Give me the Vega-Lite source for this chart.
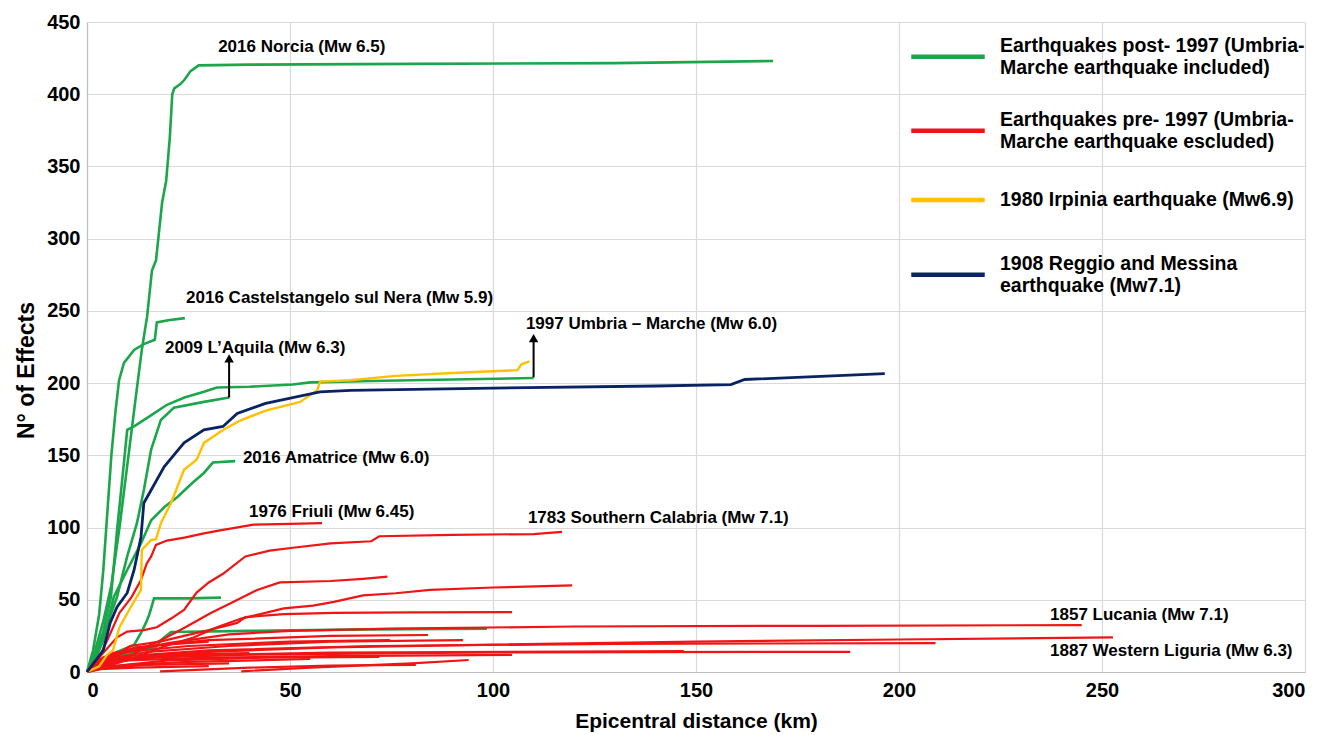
{
  "$schema": "https://vega.github.io/schema/vega-lite/v6.json",
  "width": 1218,
  "height": 650,
  "autosize": "none",
  "padding": {"left": 87, "top": 22, "right": 33, "bottom": 63},
  "background": "white",
  "config": {
    "font": "Liberation Sans",
    "view": {"stroke": null},
    "axis": {
      "grid": true, "gridColor": "#D9D9D9", "gridWidth": 1.2,
      "domainColor": "#BFBFBF", "domainWidth": 1.2, "ticks": false,
      "labelFont": "Liberation Sans", "labelFontWeight": "bold", "labelFontSize": 20, "labelColor": "#000000",
      "titleFont": "Liberation Sans", "titleFontWeight": "bold", "titleFontSize": 22, "titleColor": "#000000"
    },
    "legend": {
      "orient": "none", "title": null, "padding": 0,
      "symbolSize": 5400, "symbolStrokeWidth": 4.5,
      "labelFont": "Liberation Sans", "labelFontSize": 19.5, "labelFontWeight": "bold", "labelColor": "#000000",
      "labelLimit": 600, "labelOffset": 13
    }
  },
  "resolve": {"scale": {"color": "independent"}},
  "datasets": {
    "lines": [
      {"s":"G1","g":"post","x":0,"y":0},{"s":"G1","g":"post","x":2,"y":15},{"s":"G1","g":"post","x":4,"y":35},{"s":"G1","g":"post","x":6,"y":60},{"s":"G1","g":"post","x":8,"y":100},{"s":"G1","g":"post","x":10,"y":145},{"s":"G1","g":"post","x":12,"y":190},{"s":"G1","g":"post","x":13.5,"y":223},{"s":"G1","g":"post","x":14.8,"y":246},{"s":"G1","g":"post","x":16,"y":278},{"s":"G1","g":"post","x":17,"y":285},{"s":"G1","g":"post","x":18.5,"y":325},{"s":"G1","g":"post","x":19.5,"y":340},{"s":"G1","g":"post","x":20.4,"y":370},{"s":"G1","g":"post","x":21,"y":400},{"s":"G1","g":"post","x":21.5,"y":404},{"s":"G1","g":"post","x":23,"y":407},{"s":"G1","g":"post","x":24,"y":410},{"s":"G1","g":"post","x":25.5,"y":416},{"s":"G1","g":"post","x":27.5,"y":420},{"s":"G1","g":"post","x":40,"y":420.5},{"s":"G1","g":"post","x":80,"y":421},{"s":"G1","g":"post","x":130,"y":421.5},{"s":"G1","g":"post","x":169,"y":423},
      {"s":"G2","g":"post","x":0,"y":0},{"s":"G2","g":"post","x":1.5,"y":15},{"s":"G2","g":"post","x":3,"y":40},{"s":"G2","g":"post","x":4,"y":70},{"s":"G2","g":"post","x":5,"y":110},{"s":"G2","g":"post","x":6,"y":150},{"s":"G2","g":"post","x":7,"y":180},{"s":"G2","g":"post","x":7.9,"y":202},{"s":"G2","g":"post","x":9.1,"y":214},{"s":"G2","g":"post","x":11.6,"y":223},{"s":"G2","g":"post","x":14,"y":227},{"s":"G2","g":"post","x":16.7,"y":230},{"s":"G2","g":"post","x":17.2,"y":242},{"s":"G2","g":"post","x":20,"y":243.5},{"s":"G2","g":"post","x":24.1,"y":245},
      {"s":"G3","g":"post","x":0,"y":0},{"s":"G3","g":"post","x":2,"y":12},{"s":"G3","g":"post","x":4,"y":28},{"s":"G3","g":"post","x":5.9,"y":52},{"s":"G3","g":"post","x":7.4,"y":98},{"s":"G3","g":"post","x":9.1,"y":145},{"s":"G3","g":"post","x":9.9,"y":167.6},{"s":"G3","g":"post","x":11.6,"y":170},{"s":"G3","g":"post","x":16.5,"y":179},{"s":"G3","g":"post","x":19.7,"y":185},{"s":"G3","g":"post","x":24,"y":190},{"s":"G3","g":"post","x":28.8,"y":194},{"s":"G3","g":"post","x":32,"y":197},{"s":"G3","g":"post","x":40,"y":197.5},{"s":"G3","g":"post","x":50.7,"y":199},{"s":"G3","g":"post","x":55,"y":200.5},{"s":"G3","g":"post","x":70,"y":201.5},{"s":"G3","g":"post","x":90,"y":202.5},{"s":"G3","g":"post","x":110,"y":203.5},
      {"s":"G4","g":"post","x":0,"y":0},{"s":"G4","g":"post","x":2,"y":10},{"s":"G4","g":"post","x":4,"y":25},{"s":"G4","g":"post","x":7.4,"y":52},{"s":"G4","g":"post","x":9.9,"y":80},{"s":"G4","g":"post","x":12.3,"y":103},{"s":"G4","g":"post","x":14,"y":126},{"s":"G4","g":"post","x":15.8,"y":154},{"s":"G4","g":"post","x":18.2,"y":174.5},{"s":"G4","g":"post","x":21.4,"y":183},{"s":"G4","g":"post","x":28.8,"y":187},{"s":"G4","g":"post","x":35,"y":190},
      {"s":"G5","g":"post","x":0,"y":0},{"s":"G5","g":"post","x":2,"y":8},{"s":"G5","g":"post","x":4,"y":22},{"s":"G5","g":"post","x":6.6,"y":52},{"s":"G5","g":"post","x":9.9,"y":70.6},{"s":"G5","g":"post","x":13.3,"y":89},{"s":"G5","g":"post","x":15.8,"y":105},{"s":"G5","g":"post","x":19,"y":114},{"s":"G5","g":"post","x":22.2,"y":121},{"s":"G5","g":"post","x":26,"y":131},{"s":"G5","g":"post","x":28.8,"y":137.8},{"s":"G5","g":"post","x":31,"y":145},{"s":"G5","g":"post","x":36.5,"y":146},
      {"s":"G6","g":"post","x":0,"y":0},{"s":"G6","g":"post","x":3,"y":5},{"s":"G6","g":"post","x":7.4,"y":14},{"s":"G6","g":"post","x":11.6,"y":18.7},{"s":"G6","g":"post","x":13.3,"y":27},{"s":"G6","g":"post","x":14.5,"y":34},{"s":"G6","g":"post","x":15.3,"y":39.5},{"s":"G6","g":"post","x":16,"y":46},{"s":"G6","g":"post","x":16.5,"y":51},{"s":"G6","g":"post","x":25,"y":51},{"s":"G6","g":"post","x":33,"y":51.5},
      {"s":"G7","g":"post","x":0,"y":0},{"s":"G7","g":"post","x":3,"y":5},{"s":"G7","g":"post","x":7,"y":10},{"s":"G7","g":"post","x":11.6,"y":14},{"s":"G7","g":"post","x":17,"y":17.3},{"s":"G7","g":"post","x":18.2,"y":22},{"s":"G7","g":"post","x":20.7,"y":27.7},{"s":"G7","g":"post","x":40,"y":28.5},{"s":"G7","g":"post","x":70,"y":29.5},{"s":"G7","g":"post","x":98.5,"y":30},
      {"s":"R1","g":"pre","x":0,"y":0},{"s":"R1","g":"pre","x":3,"y":10},{"s":"R1","g":"pre","x":5,"y":22},{"s":"R1","g":"pre","x":8,"y":41},{"s":"R1","g":"pre","x":9.9,"y":47.8},{"s":"R1","g":"pre","x":11,"y":52},{"s":"R1","g":"pre","x":13.3,"y":63.7},{"s":"R1","g":"pre","x":14.7,"y":75},{"s":"R1","g":"pre","x":15.8,"y":80},{"s":"R1","g":"pre","x":17,"y":88},{"s":"R1","g":"pre","x":19.7,"y":91},{"s":"R1","g":"pre","x":24,"y":93},{"s":"R1","g":"pre","x":28.8,"y":96},{"s":"R1","g":"pre","x":32.8,"y":98},{"s":"R1","g":"pre","x":41,"y":102},{"s":"R1","g":"pre","x":50,"y":102.5},{"s":"R1","g":"pre","x":57.9,"y":103},
      {"s":"R2","g":"pre","x":0,"y":0},{"s":"R2","g":"pre","x":3,"y":10},{"s":"R2","g":"pre","x":7.4,"y":24},{"s":"R2","g":"pre","x":9.9,"y":28},{"s":"R2","g":"pre","x":14,"y":29},{"s":"R2","g":"pre","x":17.2,"y":31},{"s":"R2","g":"pre","x":20.7,"y":37},{"s":"R2","g":"pre","x":23.9,"y":43},{"s":"R2","g":"pre","x":27,"y":55},{"s":"R2","g":"pre","x":30,"y":62},{"s":"R2","g":"pre","x":33.5,"y":68},{"s":"R2","g":"pre","x":39,"y":80},{"s":"R2","g":"pre","x":45,"y":84},{"s":"R2","g":"pre","x":50.7,"y":86},{"s":"R2","g":"pre","x":60,"y":89},{"s":"R2","g":"pre","x":70,"y":90.5},{"s":"R2","g":"pre","x":72,"y":94},{"s":"R2","g":"pre","x":90,"y":95},{"s":"R2","g":"pre","x":110,"y":95.5},{"s":"R2","g":"pre","x":117,"y":97},
      {"s":"R3","g":"pre","x":0,"y":0},{"s":"R3","g":"pre","x":5,"y":5},{"s":"R3","g":"pre","x":10,"y":10},{"s":"R3","g":"pre","x":14,"y":16.6},{"s":"R3","g":"pre","x":18.2,"y":22},{"s":"R3","g":"pre","x":23.9,"y":30.5},{"s":"R3","g":"pre","x":30.5,"y":40.8},{"s":"R3","g":"pre","x":35.5,"y":47.8},{"s":"R3","g":"pre","x":41.9,"y":56.8},{"s":"R3","g":"pre","x":47.5,"y":62},{"s":"R3","g":"pre","x":60,"y":63},{"s":"R3","g":"pre","x":68,"y":64.5},{"s":"R3","g":"pre","x":74,"y":66},
      {"s":"R4","g":"pre","x":0,"y":0},{"s":"R4","g":"pre","x":5,"y":4},{"s":"R4","g":"pre","x":12,"y":10},{"s":"R4","g":"pre","x":18.2,"y":17},{"s":"R4","g":"pre","x":26.4,"y":24},{"s":"R4","g":"pre","x":32,"y":31},{"s":"R4","g":"pre","x":38,"y":37},{"s":"R4","g":"pre","x":48.5,"y":44},{"s":"R4","g":"pre","x":55.7,"y":46},{"s":"R4","g":"pre","x":60.8,"y":48.5},{"s":"R4","g":"pre","x":68,"y":53},{"s":"R4","g":"pre","x":76,"y":54.5},{"s":"R4","g":"pre","x":84.5,"y":56.8},{"s":"R4","g":"pre","x":100,"y":58.5},{"s":"R4","g":"pre","x":119.5,"y":60},
      {"s":"R5","g":"pre","x":0,"y":0},{"s":"R5","g":"pre","x":4,"y":6},{"s":"R5","g":"pre","x":10.6,"y":18},{"s":"R5","g":"pre","x":18,"y":21},{"s":"R5","g":"pre","x":23.9,"y":25},{"s":"R5","g":"pre","x":30,"y":29},{"s":"R5","g":"pre","x":37,"y":34},{"s":"R5","g":"pre","x":39,"y":38},{"s":"R5","g":"pre","x":48.5,"y":40},{"s":"R5","g":"pre","x":60.8,"y":41},{"s":"R5","g":"pre","x":80,"y":41.3},{"s":"R5","g":"pre","x":104.7,"y":41.5},
      {"s":"R6","g":"pre","x":0,"y":0},{"s":"R6","g":"pre","x":4,"y":8},{"s":"R6","g":"pre","x":10,"y":14},{"s":"R6","g":"pre","x":20,"y":20},{"s":"R6","g":"pre","x":35,"y":26},{"s":"R6","g":"pre","x":50,"y":28.5},{"s":"R6","g":"pre","x":75,"y":30},{"s":"R6","g":"pre","x":120,"y":31.5},{"s":"R6","g":"pre","x":180,"y":32},{"s":"R6","g":"pre","x":245,"y":32.5},
      {"s":"R7","g":"pre","x":0,"y":0},{"s":"R7","g":"pre","x":3,"y":5},{"s":"R7","g":"pre","x":12,"y":10},{"s":"R7","g":"pre","x":30,"y":14},{"s":"R7","g":"pre","x":60,"y":17},{"s":"R7","g":"pre","x":100,"y":19},{"s":"R7","g":"pre","x":150,"y":21},{"s":"R7","g":"pre","x":200,"y":22.5},{"s":"R7","g":"pre","x":252.7,"y":24},
      {"s":"R8","g":"pre","x":0,"y":0},{"s":"R8","g":"pre","x":3,"y":6},{"s":"R8","g":"pre","x":10,"y":11},{"s":"R8","g":"pre","x":30,"y":15},{"s":"R8","g":"pre","x":70,"y":18},{"s":"R8","g":"pre","x":130,"y":19.5},{"s":"R8","g":"pre","x":209,"y":20},
      {"s":"R9","g":"pre","x":0,"y":0},{"s":"R9","g":"pre","x":4,"y":6},{"s":"R9","g":"pre","x":15,"y":10},{"s":"R9","g":"pre","x":40,"y":12},{"s":"R9","g":"pre","x":100,"y":13.5},{"s":"R9","g":"pre","x":188,"y":14},
      {"s":"R10","g":"pre","x":0,"y":0},{"s":"R10","g":"pre","x":5,"y":7},{"s":"R10","g":"pre","x":20,"y":11},{"s":"R10","g":"pre","x":60,"y":13.5},{"s":"R10","g":"pre","x":147,"y":14.5},
      {"s":"R11","g":"pre","x":0,"y":0},{"s":"R11","g":"pre","x":3,"y":8},{"s":"R11","g":"pre","x":10,"y":14},{"s":"R11","g":"pre","x":25,"y":18},{"s":"R11","g":"pre","x":50,"y":21},{"s":"R11","g":"pre","x":74.6,"y":22},
      {"s":"R12","g":"pre","x":0,"y":0},{"s":"R12","g":"pre","x":4,"y":10},{"s":"R12","g":"pre","x":12,"y":17},{"s":"R12","g":"pre","x":30,"y":22},{"s":"R12","g":"pre","x":60,"y":25},{"s":"R12","g":"pre","x":84,"y":25.6},
      {"s":"R13","g":"pre","x":0,"y":0},{"s":"R13","g":"pre","x":5,"y":9},{"s":"R13","g":"pre","x":15,"y":14},{"s":"R13","g":"pre","x":35,"y":18},{"s":"R13","g":"pre","x":60,"y":21},{"s":"R13","g":"pre","x":92.6,"y":22},
      {"s":"R14","g":"pre","x":0,"y":0},{"s":"R14","g":"pre","x":3,"y":5},{"s":"R14","g":"pre","x":10,"y":8},{"s":"R14","g":"pre","x":30,"y":10},{"s":"R14","g":"pre","x":60,"y":11},{"s":"R14","g":"pre","x":104.7,"y":11.8},
      {"s":"R15","g":"pre","x":0,"y":0},{"s":"R15","g":"pre","x":2,"y":4},{"s":"R15","g":"pre","x":8,"y":9},{"s":"R15","g":"pre","x":20,"y":12},{"s":"R15","g":"pre","x":40,"y":13},
      {"s":"R16","g":"pre","x":0,"y":0},{"s":"R16","g":"pre","x":3,"y":3},{"s":"R16","g":"pre","x":10,"y":5},{"s":"R16","g":"pre","x":25,"y":7},{"s":"R16","g":"pre","x":55,"y":9},
      {"s":"R17","g":"pre","x":0,"y":0},{"s":"R17","g":"pre","x":1.5,"y":6},{"s":"R17","g":"pre","x":6,"y":13},{"s":"R17","g":"pre","x":15,"y":18},{"s":"R17","g":"pre","x":30,"y":21},
      {"s":"R18","g":"pre","x":0,"y":0},{"s":"R18","g":"pre","x":5,"y":3},{"s":"R18","g":"pre","x":15,"y":5},{"s":"R18","g":"pre","x":35,"y":6},
      {"s":"R19","g":"pre","x":18,"y":0.5},{"s":"R19","g":"pre","x":40,"y":3},{"s":"R19","g":"pre","x":60,"y":4.5},{"s":"R19","g":"pre","x":81,"y":5},
      {"s":"R20","g":"pre","x":38,"y":0.5},{"s":"R20","g":"pre","x":55,"y":3},{"s":"R20","g":"pre","x":80,"y":6},{"s":"R20","g":"pre","x":94,"y":8.3},
      {"s":"R21","g":"pre","x":0,"y":0},{"s":"R21","g":"pre","x":6,"y":4},{"s":"R21","g":"pre","x":20,"y":8},{"s":"R21","g":"pre","x":45,"y":10},{"s":"R21","g":"pre","x":72,"y":10.5},
      {"s":"R22","g":"pre","x":0,"y":0},{"s":"R22","g":"pre","x":3,"y":2},{"s":"R22","g":"pre","x":12,"y":3},{"s":"R22","g":"pre","x":30,"y":4},
      {"s":"Y1","g":"irp","x":0,"y":0},{"s":"Y1","g":"irp","x":3,"y":4},{"s":"Y1","g":"irp","x":5,"y":12},{"s":"Y1","g":"irp","x":6.4,"y":15},{"s":"Y1","g":"irp","x":8,"y":31},{"s":"Y1","g":"irp","x":10.8,"y":45},{"s":"Y1","g":"irp","x":13.3,"y":56.8},{"s":"Y1","g":"irp","x":13.5,"y":84.5},{"s":"Y1","g":"irp","x":15.8,"y":91.4},{"s":"Y1","g":"irp","x":17,"y":92},{"s":"Y1","g":"irp","x":18.2,"y":103},{"s":"Y1","g":"irp","x":20.7,"y":117},{"s":"Y1","g":"irp","x":23.9,"y":140},{"s":"Y1","g":"irp","x":27,"y":147},{"s":"Y1","g":"irp","x":28.8,"y":158.6},{"s":"Y1","g":"irp","x":33.5,"y":167.6},{"s":"Y1","g":"irp","x":37.7,"y":174},{"s":"Y1","g":"irp","x":44,"y":181},{"s":"Y1","g":"irp","x":52.5,"y":187},{"s":"Y1","g":"irp","x":56.7,"y":195},{"s":"Y1","g":"irp","x":57.4,"y":201},{"s":"Y1","g":"irp","x":65,"y":202},{"s":"Y1","g":"irp","x":76,"y":205},{"s":"Y1","g":"irp","x":90,"y":207},{"s":"Y1","g":"irp","x":106,"y":209},{"s":"Y1","g":"irp","x":107,"y":213},{"s":"Y1","g":"irp","x":109,"y":215},
      {"s":"N1","g":"mes","x":0,"y":0},{"s":"N1","g":"mes","x":4,"y":15},{"s":"N1","g":"mes","x":5.7,"y":34},{"s":"N1","g":"mes","x":7.4,"y":45},{"s":"N1","g":"mes","x":9.9,"y":54.7},{"s":"N1","g":"mes","x":11.6,"y":70.6},{"s":"N1","g":"mes","x":13.3,"y":93.5},{"s":"N1","g":"mes","x":14,"y":117},{"s":"N1","g":"mes","x":15.8,"y":126},{"s":"N1","g":"mes","x":19,"y":142},{"s":"N1","g":"mes","x":23.9,"y":158.6},{"s":"N1","g":"mes","x":28.8,"y":167.6},{"s":"N1","g":"mes","x":33.5,"y":170},{"s":"N1","g":"mes","x":37,"y":179},{"s":"N1","g":"mes","x":44,"y":186},{"s":"N1","g":"mes","x":50.7,"y":190},{"s":"N1","g":"mes","x":57.4,"y":194},{"s":"N1","g":"mes","x":65,"y":195},{"s":"N1","g":"mes","x":100,"y":196.5},{"s":"N1","g":"mes","x":140,"y":198},{"s":"N1","g":"mes","x":158.6,"y":199},{"s":"N1","g":"mes","x":162,"y":202.5},{"s":"N1","g":"mes","x":196.5,"y":206.5}
    ],
    "labels": [
      {"t":"2016 Norcia (Mw 6.5)","x":32.3,"y":433},
      {"t":"2016 Castelstangelo sul Nera (Mw 5.9)","x":24.4,"y":259},
      {"t":"2009 L’Aquila (Mw 6.3)","x":19.2,"y":224},
      {"t":"1997 Umbria – Marche (Mw 6.0)","x":108.1,"y":241},
      {"t":"2016 Amatrice (Mw 6.0)","x":38.4,"y":148},
      {"t":"1976 Friuli (Mw 6.45)","x":39.9,"y":111},
      {"t":"1783 Southern Calabria (Mw 7.1)","x":108.6,"y":106.5},
      {"t":"1857 Lucania (Mw 7.1)","x":237.2,"y":39.5},
      {"t":"1887 Western Liguria (Mw 6.3)","x":237.2,"y":14.5}
    ],
    "arrows": [
      {"x":35,"y":190,"y2":215},
      {"x":110,"y":204,"y2":229}
    ]
  },
  "layer": [
    {
      "data": {"name": "lines"},
      "transform": [{"filter": "datum.g == 'post'"}],
      "mark": {"type": "line", "strokeWidth": 2.6},
      "encoding": {
        "x": {"field": "x", "type": "quantitative", "scale": {"domain": [0, 300], "nice": false},
              "axis": {"values": [0,50,100,150,200,250,300], "title": "Epicentral distance (km)", "titleFontSize": 21, "labelPadding": 8, "titlePadding": 10}},
        "y": {"field": "y", "type": "quantitative", "scale": {"domain": [0, 450], "nice": false},
              "axis": {"values": [0,50,100,150,200,250,300,350,400,450], "title": "N° of Effects", "titleFontSize": 23, "titleY": 348, "labelPadding": 7, "titlePadding": 8}},
        "detail": {"field": "s"},
        "color": {"field": "g", "type": "nominal",
          "scale": {"domain": ["post"], "range": ["#1CA64B"]},
          "legend": {"orient": "none", "legendX": 822, "legendY": -15, "symbolType": "M-1,0.29H1",
            "labelExpr": "['Earthquakes post- 1997 (Umbria-', 'Marche earthquake included)']"}
        }
      }
    },
    {
      "data": {"name": "lines"},
      "transform": [{"filter": "datum.g == 'pre'"}],
      "mark": {"type": "line", "strokeWidth": 2.2},
      "encoding": {
        "x": {"field": "x", "type": "quantitative"},
        "y": {"field": "y", "type": "quantitative"},
        "detail": {"field": "s"},
        "color": {"field": "g", "type": "nominal",
          "scale": {"domain": ["pre"], "range": ["#F01414"]},
          "legend": {"orient": "none", "legendX": 822, "legendY": 59, "symbolType": "M-1,0.29H1",
            "labelExpr": "['Earthquakes pre- 1997 (Umbria-', 'Marche earthquake escluded)']"}
        }
      }
    },
    {
      "data": {"name": "lines"},
      "transform": [{"filter": "datum.g == 'irp'"}],
      "mark": {"type": "line", "strokeWidth": 2.4},
      "encoding": {
        "x": {"field": "x", "type": "quantitative"},
        "y": {"field": "y", "type": "quantitative"},
        "detail": {"field": "s"},
        "color": {"field": "g", "type": "nominal",
          "scale": {"domain": ["irp"], "range": ["#FFC000"]},
          "legend": {"orient": "none", "legendX": 822, "legendY": 139, "symbolType": "stroke",
            "labelExpr": "'1980 Irpinia earthquake (Mw6.9)'"}
        }
      }
    },
    {
      "data": {"name": "lines"},
      "transform": [{"filter": "datum.g == 'mes'"}],
      "mark": {"type": "line", "strokeWidth": 2.8},
      "encoding": {
        "x": {"field": "x", "type": "quantitative"},
        "y": {"field": "y", "type": "quantitative"},
        "detail": {"field": "s"},
        "color": {"field": "g", "type": "nominal",
          "scale": {"domain": ["mes"], "range": ["#0A2463"]},
          "legend": {"orient": "none", "legendX": 822, "legendY": 203, "symbolType": "M-1,0.29H1",
            "labelExpr": "['1908 Reggio and Messina', 'earthquake (Mw7.1)']"}
        }
      }
    },
    {
      "data": {"name": "arrows"},
      "mark": {"type": "rule", "color": "#000000", "strokeWidth": 2},
      "encoding": {
        "x": {"field": "x", "type": "quantitative"},
        "y": {"field": "y", "type": "quantitative"},
        "y2": {"field": "y2"}
      }
    },
    {
      "data": {"name": "arrows"},
      "mark": {"type": "point", "shape": "triangle-up", "filled": true, "color": "#000000", "size": 90, "opacity": 1, "yOffset": -3},
      "encoding": {
        "x": {"field": "x", "type": "quantitative"},
        "y": {"field": "y2", "type": "quantitative"}
      }
    },
    {
      "data": {"name": "labels"},
      "mark": {"type": "text", "align": "left", "baseline": "middle", "font": "Liberation Sans", "fontWeight": "bold", "fontSize": 17, "color": "#000000"},
      "encoding": {
        "x": {"field": "x", "type": "quantitative"},
        "y": {"field": "y", "type": "quantitative"},
        "text": {"field": "t"}
      }
    }
  ]
}
